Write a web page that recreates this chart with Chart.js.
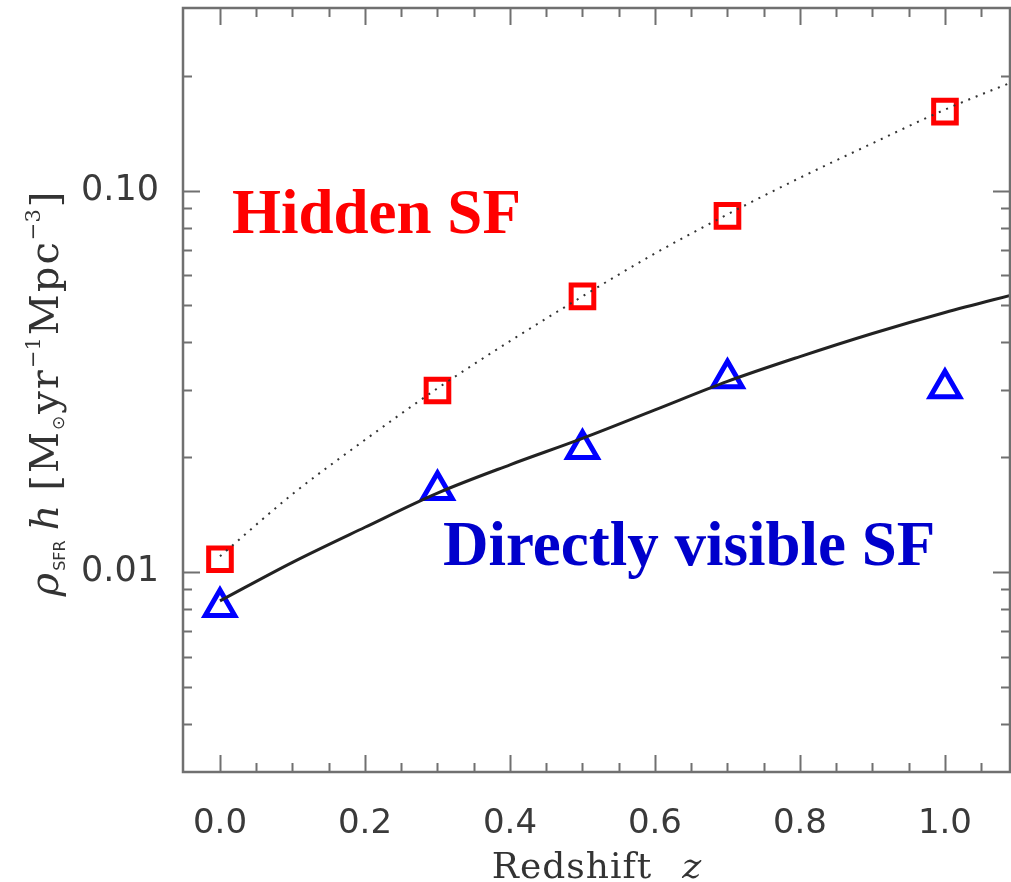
<!DOCTYPE html>
<html>
<head>
<meta charset="utf-8">
<script src="https://cdn.jsdelivr.net/npm/chart.js@4.4.1/dist/chart.umd.min.js"></script>
<style>
  html, body { margin: 0; padding: 0; background: #fff; }
  #wrap { width: 1011px; height: 882px; }
</style>
</head>
<body>
<div id="wrap"><canvas id="sfrChart" width="1011" height="882"></canvas></div>
<script>
// measured star formation rate density per redshift bin
const obsRedshift = [0.0, 0.3, 0.5, 0.7, 1.0];
const hiddenSF = [0.0108, 0.0299, 0.0528, 0.0858, 0.161];
const visibleSF = [0.0081, 0.0164, 0.0210, 0.0322, 0.0303];

// model curves (dotted = total, solid = directly visible)
const modelRedshift = [0.0, 0.1, 0.2, 0.3, 0.4, 0.5, 0.6, 0.7, 0.8, 0.9, 1.0, 1.1];
const modelTotal = [0.0110, 0.0160, 0.0222, 0.0303, 0.0403, 0.0528, 0.0684, 0.0866, 0.108, 0.133, 0.163, 0.195];
const modelVisible = [0.0084, 0.0106, 0.0131, 0.0161, 0.0191, 0.0224, 0.0266, 0.0316, 0.0367, 0.0422, 0.0479, 0.0537];

// axis ticks
const xMajorTicks = [0.0, 0.2, 0.4, 0.6, 0.8, 1.0];
const xMinorTicks = [0.05, 0.1, 0.15, 0.25, 0.3, 0.35, 0.45, 0.5, 0.55, 0.65, 0.7, 0.75, 0.85, 0.9, 0.95, 1.05];
const yMajorTicks = [0.01, 0.1];
const yMinorTicks = [0.004, 0.005, 0.006, 0.007, 0.008, 0.009,
                     0.02, 0.03, 0.04, 0.05, 0.06, 0.07, 0.08, 0.09, 0.2];

const notes = [
  { text: 'Hidden SF', z: 0.0166, rho: 0.0774, color: '#ff0000' },
  { text: 'Directly visible SF', z: 0.3076, rho: 0.01043, color: '#0000cc' }
];

const toPoints = (xs, ys) => xs.map((x, i) => ({ x: x, y: ys[i] }));

const frameColor = '#707070';
const titleColor = '#333';

const yTitleParts = [
  { text: 'ρ', font: 'italic 40px "DejaVu Serif"', gap: 2 },
  { text: 'SFR', font: '16px "DejaVu Sans"', dy: 7, gap: 10 },
  { text: 'h', font: 'italic 40px "DejaVu Serif"', gap: 14 },
  { text: '[M', font: '40px "DejaVu Serif"', spacing: 2 },
  { text: '⊙', font: '17px "DejaVu Sans"', dy: 6, gap: 2 },
  { text: 'yr', font: '40px "DejaVu Serif"', spacing: 2 },
  { text: '−1', font: '21px "DejaVu Serif"', dy: -18, gap: 2 },
  { text: 'Mpc', font: '40px "DejaVu Serif"', spacing: 2 },
  { text: '−3', font: '21px "DejaVu Serif"', dy: -18, gap: 2 },
  { text: ']', font: '40px "DejaVu Serif"' }
];
const xTitleParts = [
  { text: 'Redshift', font: '36px "DejaVu Serif"', spacing: 1, gap: 30 },
  { text: 'z', font: 'italic 36px "DejaVu Serif"' }
];

function setPart(ctx, p) {
  ctx.font = p.font;
  ctx.letterSpacing = (p.spacing || 0) + 'px';
}

function partsWidth(ctx, parts) {
  return parts.reduce((w, p) => {
    setPart(ctx, p);
    return w + ctx.measureText(p.text).width + (p.gap || 0);
  }, 0);
}

function drawParts(ctx, parts, x, y) {
  parts.forEach(p => {
    setPart(ctx, p);
    ctx.fillText(p.text, x, y + (p.dy || 0));
    x += ctx.measureText(p.text).width + (p.gap || 0);
  });
  ctx.letterSpacing = '0px';
}

// IDL-style frame: box on all four sides with inward ticks
const axisDecor = {
  id: 'axisDecor',
  afterDatasetsDraw(chart) {
    const { ctx, chartArea: a, scales } = chart;
    const x = scales.x, y = scales.y;
    ctx.save();
    ctx.strokeStyle = frameColor;
    ctx.lineWidth = 2;
    ctx.beginPath();
    const xTick = (v, len) => {
      const px = Math.round(x.getPixelForValue(v)) + 0.5;
      ctx.moveTo(px, a.bottom); ctx.lineTo(px, a.bottom - len);
      ctx.moveTo(px, a.top); ctx.lineTo(px, a.top + len);
    };
    const yTick = (v, len) => {
      const py = Math.round(y.getPixelForValue(v)) + 0.5;
      ctx.moveTo(a.left, py); ctx.lineTo(a.left + len, py);
      ctx.moveTo(a.right, py); ctx.lineTo(a.right - len, py);
    };
    xMajorTicks.forEach(v => xTick(v, 17));
    xMinorTicks.forEach(v => xTick(v, 9));
    yMajorTicks.forEach(v => yTick(v, 17));
    yMinorTicks.forEach(v => yTick(v, 9));
    ctx.stroke();
    ctx.lineWidth = 2.5;
    ctx.strokeRect(a.left, a.top, a.right - a.left, a.bottom - a.top);

    // axis titles
    ctx.fillStyle = titleColor;
    ctx.textBaseline = 'alphabetic';
    ctx.textAlign = 'left';
    const xw = partsWidth(ctx, xTitleParts);
    drawParts(ctx, xTitleParts, (a.left + a.right) / 2 - xw / 2, 878);

    const yw = partsWidth(ctx, yTitleParts);
    ctx.translate(58, (a.top + a.bottom) / 2 + 4);
    ctx.rotate(-Math.PI / 2);
    drawParts(ctx, yTitleParts, -yw / 2, 0);
    ctx.restore();

    // labels for the two components
    ctx.save();
    ctx.font = 'bold 63px "Liberation Serif"';
    ctx.textAlign = 'left';
    ctx.textBaseline = 'alphabetic';
    notes.forEach(n => {
      ctx.fillStyle = n.color;
      ctx.fillText(n.text, x.getPixelForValue(n.z), y.getPixelForValue(n.rho));
    });
    ctx.restore();
  }
};

const ctx = document.getElementById('sfrChart').getContext('2d');

new Chart(ctx, {
  type: 'scatter',
  data: {
    datasets: [
      {
        label: 'total (model)',
        data: toPoints(modelRedshift, modelTotal),
        showLine: true,
        borderColor: '#333',
        borderWidth: 2,
        borderDash: [2, 6],
        pointRadius: 0,
        cubicInterpolationMode: 'monotone'
      },
      {
        label: 'visible (model)',
        data: toPoints(modelRedshift, modelVisible),
        showLine: true,
        borderColor: '#222',
        borderWidth: 3,
        pointRadius: 0,
        cubicInterpolationMode: 'monotone'
      },
      {
        label: 'Hidden SF',
        data: toPoints(obsRedshift, hiddenSF),
        pointStyle: 'rect',
        pointRadius: 16,
        borderWidth: 5,
        borderColor: '#ff0000',
        backgroundColor: 'rgba(0,0,0,0)'
      },
      {
        label: 'Directly visible SF',
        data: toPoints(obsRedshift, visibleSF),
        pointStyle: 'triangle',
        pointRadius: 17,
        borderWidth: 5,
        borderColor: '#0000ff',
        backgroundColor: 'rgba(0,0,0,0)'
      }
    ]
  },
  options: {
    responsive: false,
    animation: false,
    events: [],
    layout: { autoPadding: false, padding: { top: 8, right: 1, left: 0, bottom: 0 } },
    plugins: {
      legend: { display: false },
      tooltip: { enabled: false }
    },
    scales: {
      x: {
        type: 'linear',
        min: -0.051,
        max: 1.0897,
        grid: { display: false },
        border: { display: false },
        afterBuildTicks: s => { s.ticks = xMajorTicks.map(v => ({ value: v })); },
        afterFit: s => {
          s.height = 110;
          s.paddingLeft = 0;
          s.paddingRight = 0;
        },
        ticks: {
          padding: 24,
          color: '#3a3a3a',
          font: { family: 'DejaVu Sans', size: 34 },
          callback: v => v.toFixed(1)
        }
      },
      y: {
        type: 'logarithmic',
        min: 0.00299,
        max: 0.301,
        grid: { display: false },
        border: { display: false },
        afterBuildTicks: s => { s.ticks = yMajorTicks.map(v => ({ value: v })); },
        afterFit: s => {
          s.width = 183;
          s.paddingTop = 0;
          s.paddingBottom = 0;
        },
        ticks: {
          padding: 16,
          color: '#3a3a3a',
          font: { family: 'DejaVu Sans', size: 35 },
          callback: v => v.toFixed(2)
        }
      }
    }
  },
  plugins: [axisDecor]
});
</script>
</body>
</html>
